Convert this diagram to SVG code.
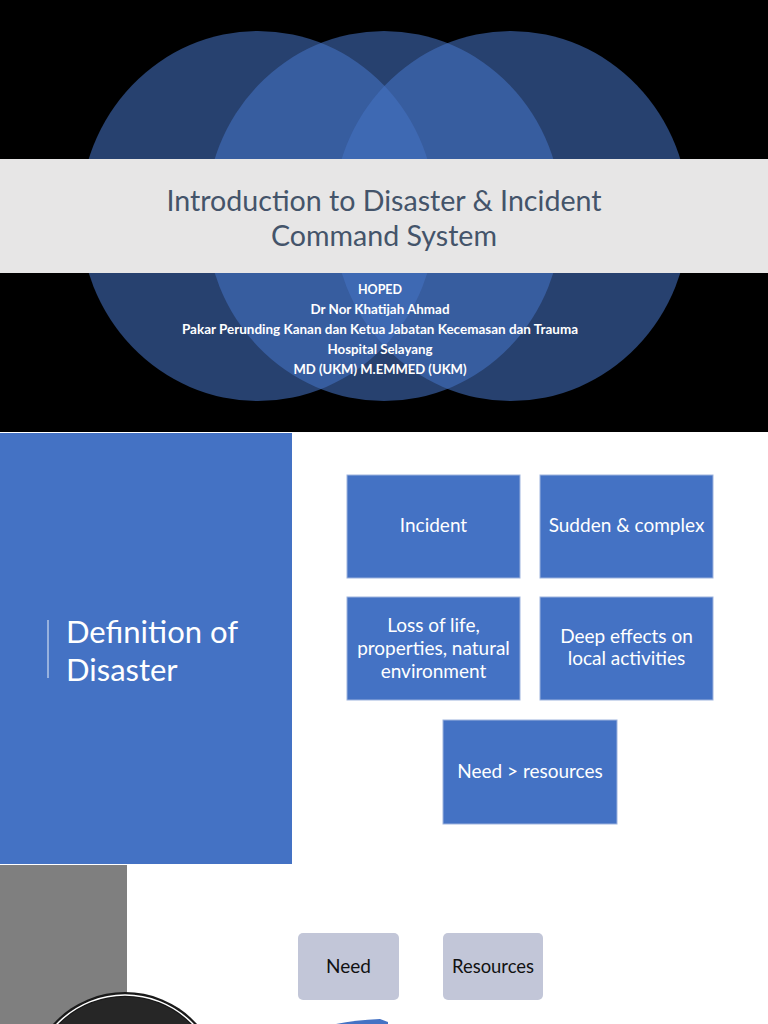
<svg xmlns="http://www.w3.org/2000/svg" width="768" height="1024" viewBox="0 0 768 1024">
<style>
.venn{fill:#4472C4;fill-opacity:0.57}
.title{font-family:Lato,"Open Sans",sans-serif;font-size:28px;fill:#44546A;text-anchor:middle}
.sub{font-family:Lato,"Open Sans",sans-serif;font-size:12.5px;font-weight:bold;fill:#FFFFFF;text-anchor:middle}
.box{fill:#4472C4;stroke:#9DB3DE;stroke-width:1}
.bt{font-family:Lato,"Open Sans",sans-serif;font-size:19px;fill:#FFFFFF;text-anchor:middle}
.gbox{fill:#C2C6D8}
.gt{font-family:Lato,"Open Sans",sans-serif;font-size:19px;fill:#111111;text-anchor:middle}
</style>
<rect x="0" y="0" width="768" height="1024" fill="#FFFFFF"/>
<g id="slide1">
<rect x="0" y="0" width="768" height="432" fill="#000000"/>
<ellipse class="venn" cx="258" cy="216" rx="178" ry="185"/>
<ellipse class="venn" cx="384" cy="216" rx="178" ry="185"/>
<ellipse class="venn" cx="511" cy="216" rx="178" ry="185"/>
<rect x="0" y="159" width="768" height="114" fill="#E7E6E6"/>
<text class="title" x="384" y="211" textLength="435" lengthAdjust="spacingAndGlyphs">Introduction to Disaster &amp; Incident</text>
<text class="title" x="384" y="246" textLength="226" lengthAdjust="spacingAndGlyphs">Command System</text>
<text class="sub" x="380" y="294">HOPED</text>
<text class="sub" x="380" y="314" textLength="139" lengthAdjust="spacingAndGlyphs">Dr Nor Khatijah Ahmad</text>
<text class="sub" x="380" y="334" textLength="396" lengthAdjust="spacingAndGlyphs">Pakar Perunding Kanan dan Ketua Jabatan Kecemasan dan Trauma</text>
<text class="sub" x="380" y="354" textLength="105" lengthAdjust="spacingAndGlyphs">Hospital Selayang</text>
<text class="sub" x="380" y="374" textLength="173" lengthAdjust="spacingAndGlyphs">MD (UKM) M.EMMED (UKM)</text>
</g>
<g id="slide2">
<rect x="0" y="433" width="292" height="431" fill="#4472C4"/>
<line x1="48" y1="620" x2="48" y2="678" stroke="#FFFFFF" stroke-opacity="0.6" stroke-width="1.5"/>
<text x="66" y="643" font-family="Lato,'Open Sans',sans-serif" font-size="31" fill="#FFFFFF">Definition of</text>
<text x="66" y="681" font-family="Lato,'Open Sans',sans-serif" font-size="31" fill="#FFFFFF">Disaster</text>
</g>
<g id="node-incident">
<rect class="box" x="347" y="475" width="173" height="103"/>
<text class="bt" x="433.5" y="532">Incident</text>
</g>
<g id="node-sudden">
<rect class="box" x="540" y="475" width="173" height="103"/>
<text class="bt" x="626.5" y="532">Sudden &amp; complex</text>
</g>
<g id="node-loss">
<rect class="box" x="347" y="597" width="173" height="103"/>
<text class="bt" x="433.5" y="632">Loss of life,</text>
<text class="bt" x="433.5" y="655">properties, natural</text>
<text class="bt" x="433.5" y="678">environment</text>
</g>
<g id="node-deep">
<rect class="box" x="540" y="597" width="173" height="103"/>
<text class="bt" x="626.5" y="643">Deep effects on</text>
<text class="bt" x="626.5" y="665">local activities</text>
</g>
<g id="node-need-res">
<rect class="box" x="443" y="720" width="174" height="104"/>
<text class="bt" x="530" y="778">Need &gt; resources</text>
</g>
<g id="connectors"></g>
<g id="slide3">
<rect x="0" y="865" width="127" height="159" fill="#7F7F7F"/>
<circle cx="125" cy="1089" r="97" fill="#1A1A1A"/>
<circle cx="125" cy="1089" r="94" fill="none" stroke="#FFFFFF" stroke-width="1.5"/>
<circle cx="125" cy="1089" r="92" fill="#262626"/>
<path d="M336 1024 Q355 1020 380 1019 L388 1022 L388 1024 Z" fill="#4472C4"/>
</g>
<g id="node-need">
<rect class="gbox" x="298" y="933" width="101" height="67" rx="5"/>
<text class="gt" x="348.5" y="973">Need</text>
</g>
<g id="node-resources">
<rect class="gbox" x="443" y="933" width="100" height="67" rx="5"/>
<text class="gt" x="493" y="973" textLength="82" lengthAdjust="spacingAndGlyphs">Resources</text>
</g>
</svg>
